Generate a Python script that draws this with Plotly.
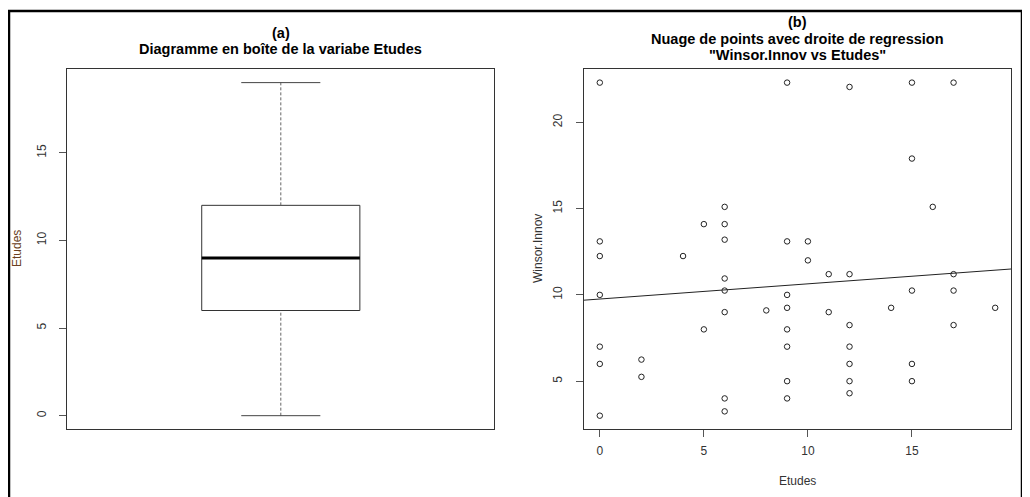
import numpy as np
import plotly.graph_objects as go

# Data
etudes = [0, 0, 0, 0, 0, 0, 0,
          2, 2,
          4,
          5, 5,
          6, 6, 6, 6, 6, 6, 6, 6,
          8,
          9, 9, 9, 9, 9, 9, 9, 9,
          10, 10,
          11, 11,
          12, 12, 12, 12, 12, 12, 12,
          14,
          15, 15, 15, 15, 15,
          16,
          17, 17, 17, 17,
          19]
winsor_innov = [22.3, 13.1, 12.25, 10.0, 7.0, 6.0, 3.0,
                6.25, 5.25,
                12.25,
                14.1, 8.0,
                15.1, 14.1, 13.2, 10.95, 10.25, 9.0, 4.0, 3.25,
                9.1,
                22.3, 13.1, 10.0, 9.25, 8.0, 7.0, 5.0, 4.0,
                13.1, 12.0,
                11.2, 9.0,
                22.05, 11.2, 8.25, 7.0, 6.0, 5.0, 4.3,
                9.25,
                22.3, 17.9, 10.25, 6.0, 5.0,
                15.1,
                22.3, 11.2, 10.25, 8.25,
                9.25]
# regression line
reg_intercept = 9.76
reg_slope = 0.088
y_ticks_left = [0, 5, 10, 15]
x_ticks_right = [0, 5, 10, 15]
y_ticks_right = [5, 10, 15, 20]

OFF = 8  # page body margin
W, H = 1030 - OFF, 497 - OFF
FONT = "Liberation Sans, Arial, sans-serif"
AX = "#333333"


def fivenum(v):
    s = np.sort(np.asarray(v, dtype=float))
    n = len(s)
    n4 = np.floor((n + 3) / 2) / 2
    d = np.array([1, n4, (n + 1) / 2, n + 1 - n4, n]) - 1
    return 0.5 * (s[np.floor(d).astype(int)] + s[np.ceil(d).astype(int)])


def rng(v):
    lo, hi = min(v), max(v)
    p = 0.04 * (hi - lo)
    return [lo - p, hi + p]


def px_x(p):
    return (p - OFF) / W


def px_y(p):
    return 1 - (p - OFF) / H


mn, q1, med, q3, mx = fivenum(etudes)

fig = go.Figure()

# ---- (a) boxplot, drawn from computed statistics ----
bx0, bx1, cx, c0, c1 = 0.8, 1.2, 1.0, 0.9, 1.1
fig.add_trace(go.Scatter(x=[bx0, bx1, bx1, bx0, bx0], y=[q1, q1, q3, q3, q1],
                         mode="lines", line=dict(color=AX, width=1),
                         xaxis="x", yaxis="y", showlegend=False))
fig.add_trace(go.Scatter(x=[bx0, bx1], y=[med, med], mode="lines",
                         line=dict(color="black", width=3), xaxis="x", yaxis="y",
                         showlegend=False))
for a, b in [(mn, q1), (q3, mx)]:
    fig.add_trace(go.Scatter(x=[cx, cx], y=[a, b], mode="lines",
                             line=dict(color="#666666", width=1, dash="3px,2px"),
                             xaxis="x", yaxis="y", showlegend=False))
for v in [mn, mx]:
    fig.add_trace(go.Scatter(x=[c0, c1], y=[v, v], mode="lines",
                             line=dict(color="#444444", width=1),
                             xaxis="x", yaxis="y", showlegend=False))

# ---- (b) scatter with regression line ----
fig.add_trace(go.Scatter(x=etudes, y=winsor_innov, mode="markers",
                         marker=dict(symbol="circle-open", size=5.5,
                                     color="#222222", line=dict(width=1)),
                         xaxis="x2", yaxis="y2", showlegend=False))
xr = rng(etudes)
fig.add_trace(go.Scatter(x=xr, y=[reg_intercept + reg_slope * v for v in xr],
                         mode="lines", line=dict(color="#222222", width=1),
                         xaxis="x2", yaxis="y2", showlegend=False))

ydom = [px_y(429), px_y(69.3)]
tickfont = dict(family=FONT, size=12, color=AX)
common = dict(showline=True, linecolor=AX, linewidth=1, mirror=True,
              showgrid=False, zeroline=False, tickfont=tickfont,
              ticks="outside", ticklen=7, tickcolor="#555555", tickwidth=1)

fig.update_layout(
    width=W, height=H,
    margin=dict(l=0, r=0, t=0, b=0),
    paper_bgcolor="white", plot_bgcolor="white",
    font=dict(family=FONT, color=AX),
    xaxis=dict(domain=[px_x(67.3), px_x(494.3)], range=[0.46, 1.54],
               showticklabels=False, showline=True, linecolor=AX, mirror=True,
               showgrid=False, zeroline=False, ticks="", anchor="y"),
    yaxis=dict(domain=ydom, range=rng(etudes), tickvals=y_ticks_left,
               tickangle=-90, anchor="x", ticklabelstandoff=9, **common),
    xaxis2=dict(domain=[px_x(584), px_x(1011)], range=xr, tickvals=x_ticks_right,
                anchor="y2", ticklabelstandoff=4, **common),
    yaxis2=dict(domain=ydom, range=rng(winsor_innov), tickvals=y_ticks_right,
                tickangle=-90, anchor="x2", ticklabelstandoff=9, **common),
)

tfont = dict(family=FONT, size=14.5, color="black", weight="bold")
afont = dict(family=FONT, size=12, color=AX)
ann = [
    ("(a)", 280.8, 33, tfont, 0),
    ("Diagramme en boîte de la variabe Etudes", 280.8, 49, tfont, 0),
    ("(b)", 797.5, 22, tfont, 0),
    ("Nuage de points avec droite de regression", 797.5, 39, tfont, 0),
    ("\"Winsor.Innov vs Etudes\"", 797.5, 55, tfont, 0),
    ("Etudes", 17, 249, dict(family=FONT, size=12, color="#6b3f22"), -90),
    ("Winsor.Innov", 538, 249, afont, -90),
    ("Etudes", 797.5, 481, afont, 0),
]
for text, x, y, f, ang in ann:
    fig.add_annotation(text=text, x=px_x(x), y=px_y(y), xref="paper", yref="paper",
                       showarrow=False, xanchor="center", yanchor="middle",
                       font=f, textangle=ang)

# outer frame of the figure
fig.add_shape(type="rect", xref="paper", yref="paper",
              x0=px_x(9), x1=px_x(1022), y0=-0.2, y1=px_y(11),
              line=dict(color="black", width=2.5))

fig.write_html("out.html")
